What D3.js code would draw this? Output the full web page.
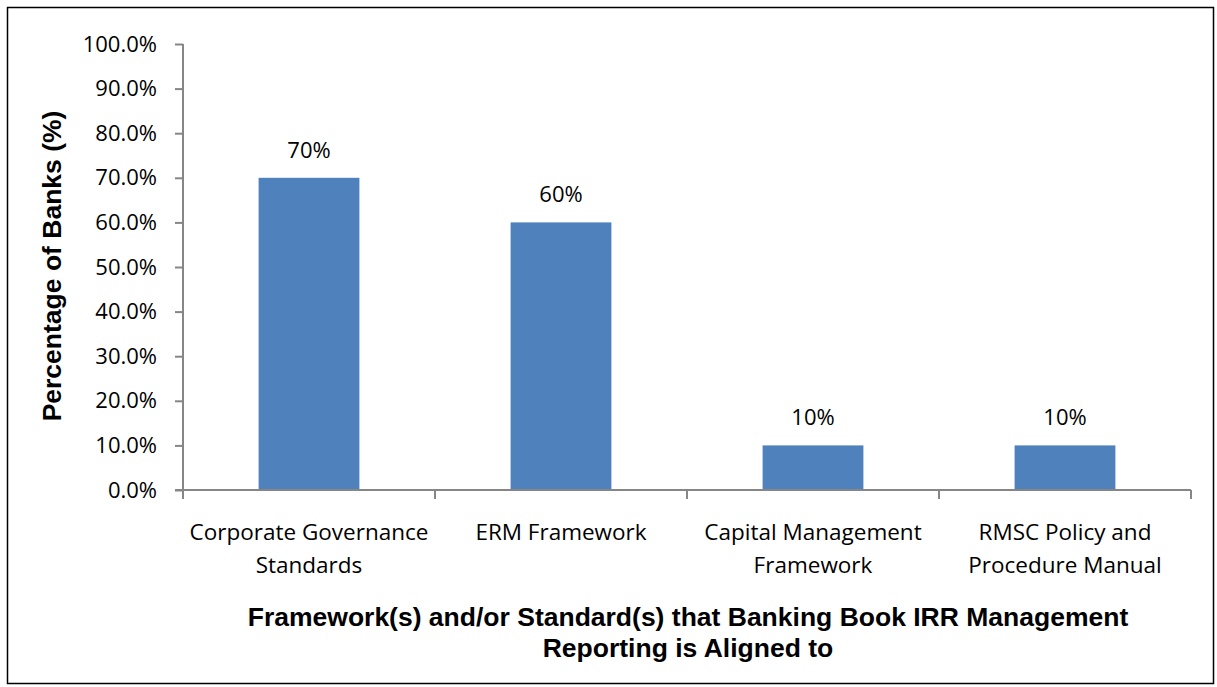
<!DOCTYPE html>
<html>
<head>
<meta charset="utf-8">
<script src="https://cdn.jsdelivr.net/npm/d3@7"></script>
<style>
  html, body { margin: 0; padding: 0; background: #fff; }
  svg { display: block; }
</style>
</head>
<body>
<svg id="chart" width="1217" height="687"></svg>
<script>
// Categories (each entry split into its display lines)
const categories = [
  ["Corporate Governance", "Standards"],
  ["ERM Framework"],
  ["Capital Management", "Framework"],
  ["RMSC Policy and", "Procedure Manual"]
];
// Share of banks per category (%)
const values = [70, 60, 10, 10];
// Value labels shown above bars
const valueLabels = ["70%", "60%", "10%", "10%"];
// Y-axis tick values (%)
const yTicks = [0, 10, 20, 30, 40, 50, 60, 70, 80, 90, 100];

const yTitle = "Percentage of Banks (%)";
const xTitle = ["Framework(s) and/or Standard(s) that Banking Book IRR Management",
                "Reporting is Aligned to"];

const svg = d3.select("#chart");
const plot = { left: 183, right: 1191, top: 44, bottom: 490 };
const axisColor = "#868686";
const barColor = "#4F81BD";
const labelFont = "'Open Sans', 'Liberation Sans', sans-serif";
const titleFont = "'Liberation Sans', Arial, sans-serif";

// outer frame
svg.append("rect")
  .attr("x", 7.5).attr("y", 7.5)
  .attr("width", 1206).attr("height", 676)
  .attr("fill", "#fff").attr("stroke", "#000").attr("stroke-width", 1.5);

const keys = categories.map((c, i) => i);
const x = d3.scaleBand().domain(keys).range([plot.left, plot.right]).padding(0);
const y = d3.scaleLinear().domain([0, 100]).range([plot.bottom, plot.top]);
const barW = x.bandwidth() * 0.4;

// bars
svg.append("g").selectAll("rect")
  .data(values)
  .join("rect")
  .attr("x", (d, i) => x(i) + (x.bandwidth() - barW) / 2)
  .attr("y", d => y(d))
  .attr("width", barW)
  .attr("height", d => y(0) - y(d))
  .attr("fill", barColor);

// value labels
svg.append("g").selectAll("text")
  .data(values)
  .join("text")
  .attr("x", (d, i) => x(i) + x.bandwidth() / 2)
  .attr("y", d => y(d) - 20)
  .attr("text-anchor", "middle")
  .attr("font-family", labelFont)
  .attr("font-size", 22)
  .attr("fill", "#000")
  .text((d, i) => valueLabels[i]);

// y axis
const yAxis = d3.axisLeft(y)
  .tickValues(yTicks)
  .tickSize(8)
  .tickPadding(18)
  .tickFormat(d => d.toFixed(1) + "%");
const gy = svg.append("g")
  .attr("transform", `translate(${plot.left},0)`)
  .call(yAxis);
gy.select(".domain").attr("stroke", axisColor).attr("stroke-width", 2)
  .attr("d", `M0,${plot.top}V${plot.bottom}`);
gy.selectAll(".tick line").attr("stroke", axisColor).attr("stroke-width", 2);
gy.selectAll(".tick text")
  .attr("font-family", labelFont).attr("font-size", 22).attr("fill", "#000");

// x axis: baseline with ticks at category boundaries
const gx = svg.append("g");
gx.append("line")
  .attr("x1", plot.left - 8).attr("x2", plot.right)
  .attr("y1", y(0)).attr("y2", y(0))
  .attr("stroke", axisColor).attr("stroke-width", 2);
const bounds = keys.map(k => x(k)).concat([x(keys[keys.length - 1]) + x.bandwidth()]);
gx.selectAll("line.tk")
  .data(bounds)
  .join("line")
  .attr("class", "tk")
  .attr("x1", d => d).attr("x2", d => d)
  .attr("y1", y(0)).attr("y2", y(0) + 9)
  .attr("stroke", axisColor).attr("stroke-width", 2);

// category labels
const cat = svg.append("g").selectAll("text")
  .data(categories)
  .join("text")
  .attr("text-anchor", "middle")
  .attr("font-family", labelFont)
  .attr("font-size", 22.5)
  .attr("fill", "#000");
cat.selectAll("tspan")
  .data((d, i) => d.map(line => ({ line, i })))
  .join("tspan")
  .attr("x", d => x(d.i) + x.bandwidth() / 2)
  .attr("y", (d, j) => 540 + j * 33)
  .text(d => d.line);

// y title
svg.append("text")
  .attr("transform", `translate(61,266) rotate(-90)`)
  .attr("text-anchor", "middle")
  .attr("font-family", titleFont)
  .attr("font-weight", "bold")
  .attr("font-size", 26.5)
  .attr("fill", "#000")
  .text(yTitle);

// x title
svg.append("text")
  .attr("text-anchor", "middle")
  .attr("font-family", titleFont)
  .attr("font-weight", "bold")
  .attr("font-size", 26.5)
  .attr("fill", "#000")
  .selectAll("tspan")
  .data(xTitle)
  .join("tspan")
  .attr("x", 688)
  .attr("y", (d, j) => 626 + j * 31)
  .text(d => d);
</script>
</body>
</html>
